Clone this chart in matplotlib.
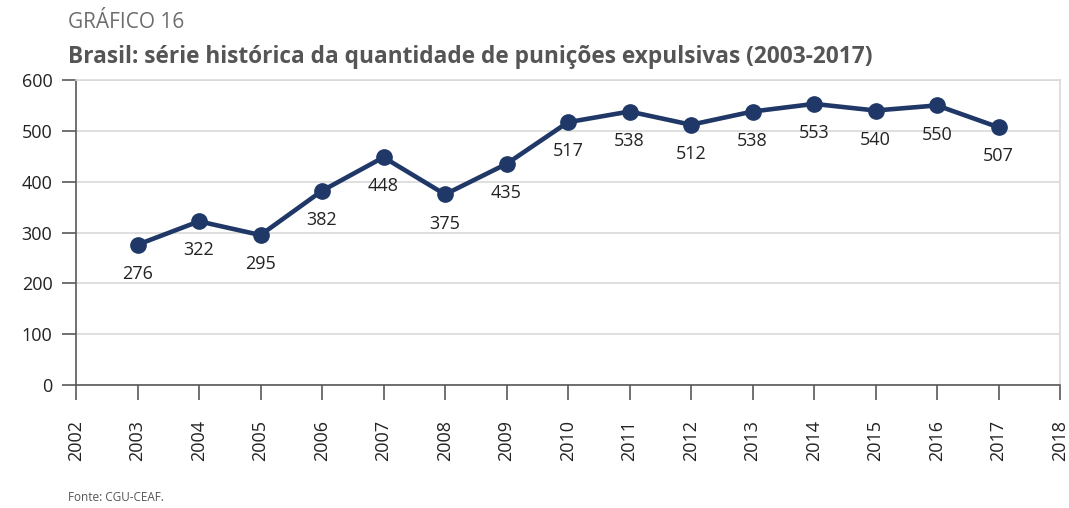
import matplotlib.pyplot as plt

anos = [2003, 2004, 2005, 2006, 2007, 2008, 2009, 2010, 2011, 2012, 2013, 2014, 2015, 2016, 2017]
punicoes = [276, 322, 295, 382, 448, 375, 435, 517, 538, 512, 538, 553, 540, 550, 507]
ticks_x = list(range(2002, 2019))
ticks_y = [0, 100, 200, 300, 400, 500, 600]

plt.rcParams['font.family'] = ['Open Sans', 'DejaVu Sans']

cor_linha = '#1f3868'
cor_texto = '#222222'

fig = plt.figure(figsize=(10.69, 5.08), dpi=100)
ax = fig.add_axes([0.0711, 0.2421, 0.9205, 0.6004])

ax.plot(anos, punicoes, color=cor_linha, linewidth=3.3, marker='o',
        markersize=11, zorder=3)
for a, v in zip(anos, punicoes):
    ax.annotate(str(v), (a, v), xytext=(0, -21), textcoords='offset points',
                ha='center', va='center', fontsize=13, color=cor_texto)

ax.set_xlim(2002, 2018)
ax.set_ylim(0, 600)
ax.set_xticks(ticks_x)
ax.set_xticklabels([str(t) for t in ticks_x], rotation=90)
ax.set_yticks(ticks_y)
ax.grid(axis='y', color='#d9d9d9', linewidth=1.2, zorder=0)

for lado in ['top', 'right']:
    ax.spines[lado].set_color('#d9d9d9')
    ax.spines[lado].set_linewidth(1.2)
for lado in ['left', 'bottom']:
    ax.spines[lado].set_color('#595959')
    ax.spines[lado].set_linewidth(1.2)

ax.tick_params(axis='y', length=10, width=1.2, color='#595959', pad=7,
               labelsize=13, labelcolor=cor_texto)
ax.tick_params(axis='x', length=11, width=1.2, color='#595959', pad=14,
               labelsize=13, labelcolor=cor_texto)

fig.text(0.0636, 0.935, 'GRÁFICO 16', fontsize=15, color='#6d6d6d', va='bottom')
fig.text(0.0636, 0.865, 'Brasil: série histórica da quantidade de punições expulsivas (2003-2017)',
         fontsize=16.3, fontweight='bold', color='#555555', va='bottom')
fig.text(0.0636, 0.008, 'Fonte: CGU-CEAF.', fontsize=8.5, color='#555555', va='bottom')

fig.savefig('out.png', dpi=100)
